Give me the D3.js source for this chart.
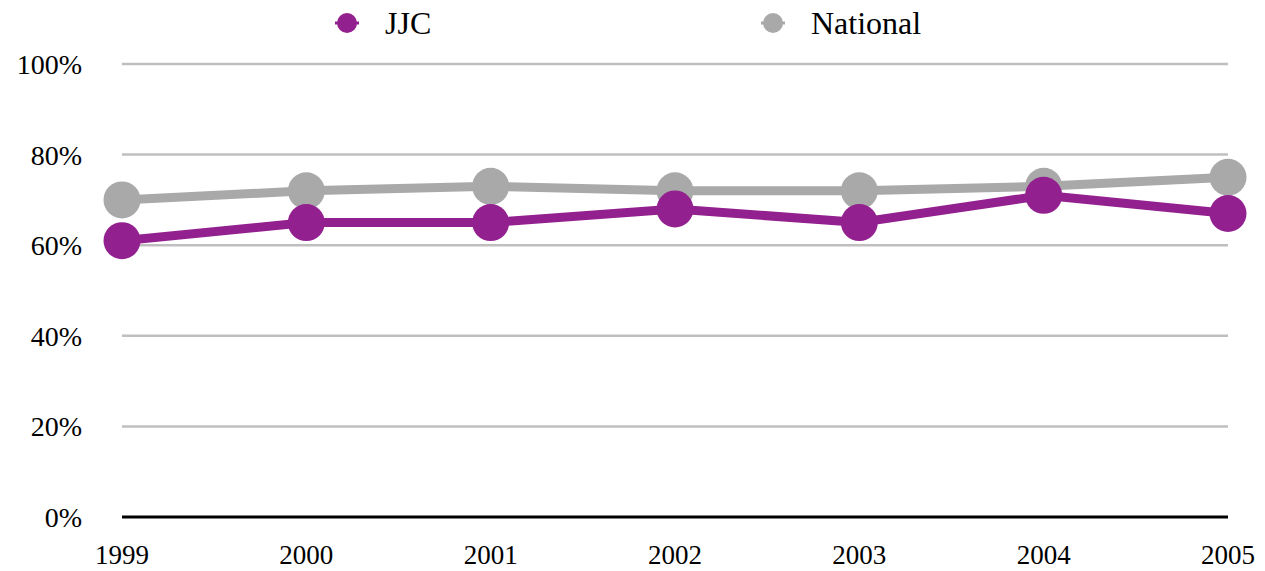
<!DOCTYPE html>
<html>
<head>
<meta charset="utf-8">
<script src="https://cdn.jsdelivr.net/npm/d3@7"></script>
<style>
  body { margin: 0; background: #fff; }
  text { font-family: "Liberation Serif", "DejaVu Serif", serif; }
</style>
</head>
<body>
<div id="chart"></div>
<script>
const years = ["1999", "2000", "2001", "2002", "2003", "2004", "2005"];
const jjc = [61, 65, 65, 68, 65, 71, 67];
const national = [70, 72, 73, 72, 72, 73, 75];
const yTicks = [0, 20, 40, 60, 80, 100];

const width = 1265;
const height = 571;
const margin = { top: 64, right: 37, bottom: 54, left: 122 };

const purple = "#93208f";
const grey = "#a9a9a9";

const svg = d3.select("#chart")
    .append("svg")
    .attr("width", width)
    .attr("height", height);

const x = d3.scalePoint()
    .domain(years)
    .range([margin.left, width - margin.right]);

const y = d3.scaleLinear()
    .domain([0, 100])
    .range([height - margin.bottom, margin.top]);

// gridlines
svg.selectAll(".grid")
    .data(yTicks.filter(d => d > 0))
    .enter().append("line")
    .attr("class", "grid")
    .attr("x1", margin.left)
    .attr("x2", width - margin.right)
    .attr("y1", d => y(d))
    .attr("y2", d => y(d))
    .attr("stroke", "#bfbfbf")
    .attr("stroke-width", 2.5);

// y labels
svg.selectAll(".ylab")
    .data(yTicks)
    .enter().append("text")
    .attr("class", "ylab")
    .attr("x", 82)
    .attr("y", d => y(d) + 10)
    .attr("text-anchor", "end")
    .style("font-size", "28px")
    .text(d => d + "%");

// zero axis
svg.append("line")
    .attr("x1", margin.left)
    .attr("x2", width - margin.right)
    .attr("y1", y(0))
    .attr("y2", y(0))
    .attr("stroke", "#000")
    .attr("stroke-width", 3);

// x labels
svg.selectAll(".xlab")
    .data(years)
    .enter().append("text")
    .attr("class", "xlab")
    .attr("x", d => x(d))
    .attr("y", 564)
    .attr("text-anchor", "middle")
    .style("font-size", "27px")
    .text(d => d);

const line = d3.line()
    .x((d, i) => x(years[i]))
    .y(d => y(d));

function drawSeries(data, color) {
    svg.append("path")
        .datum(data)
        .attr("fill", "none")
        .attr("stroke", color)
        .attr("stroke-width", 9)
        .attr("d", line);

    svg.append("g")
        .selectAll("circle")
        .data(data)
        .enter().append("circle")
        .attr("cx", (d, i) => x(years[i]))
        .attr("cy", d => y(d))
        .attr("r", 18.5)
        .attr("fill", color);
}

drawSeries(national, grey);
drawSeries(jjc, purple);

// legend
const legend = [
    { name: "JJC", color: purple, x: 347 },
    { name: "National", color: grey, x: 773 }
];

const lg = svg.selectAll(".legend")
    .data(legend)
    .enter().append("g")
    .attr("class", "legend")
    .attr("transform", d => `translate(${d.x},23)`);

lg.append("line")
    .attr("x1", -12).attr("x2", 12)
    .attr("stroke", d => d.color)
    .attr("stroke-width", 3);

lg.append("circle")
    .attr("r", 10)
    .attr("fill", d => d.color);

lg.append("text")
    .attr("x", 38)
    .attr("y", 11)
    .style("font-size", "32px")
    .text(d => d.name);
</script>
</body>
</html>
